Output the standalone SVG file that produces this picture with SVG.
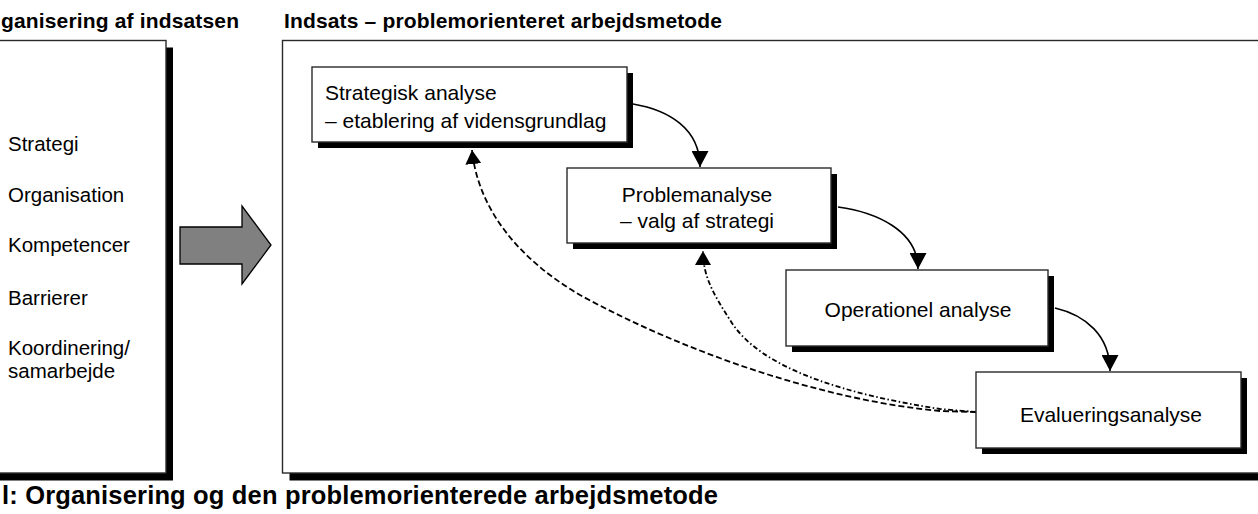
<svg xmlns="http://www.w3.org/2000/svg" width="1258" height="514" viewBox="0 0 1258 514">
<style>
.bg{fill:#ffffff}
.sh{fill:#000000}
.frame{fill:#ffffff;stroke:#2a2a2a;stroke-width:1.4}
.t{font-family:"Liberation Sans",Arial,sans-serif;font-size:21px;fill:#000}
.lab{font-family:"Liberation Sans",Arial,sans-serif;font-size:20.5px;fill:#000}
.title{font-family:"Liberation Sans",Arial,sans-serif;font-size:21px;font-weight:bold;fill:#000}
.cap{font-family:"Liberation Sans",Arial,sans-serif;font-size:25.5px;font-weight:bold;fill:#000}
.mid{text-anchor:middle}
.flow{fill:none;stroke:#000;stroke-width:1.6}
.fb1{fill:none;stroke:#000;stroke-width:1.8;stroke-dasharray:6 3}
.fb2{fill:none;stroke:#000;stroke-width:1.8;stroke-dasharray:5 2.5 1.5 2.5}
</style>
<defs>
<marker id="ah" markerUnits="userSpaceOnUse" viewBox="0 0 16 17" refX="16" refY="8.5" markerWidth="16" markerHeight="17" orient="auto">
<path d="M0,0 L16,8.5 L0,17 Z" fill="#000"/>
</marker>
<marker id="ahd" markerUnits="userSpaceOnUse" viewBox="0 0 14 16" refX="14" refY="8" markerWidth="14" markerHeight="16" orient="auto">
<path d="M0,0 L14,8 L0,16 Z" fill="#000"/>
</marker>
</defs>
<rect class="bg" x="0" y="0" width="1258" height="514"/>

<g id="title-left">
<text class="title" x="1" y="28" textLength="238" lengthAdjust="spacing">ganisering af indsatsen</text>
</g>
<g id="title-right">
<text class="title" x="284" y="28" textLength="438" lengthAdjust="spacing">Indsats – problemorienteret arbejdsmetode</text>
</g>

<g id="panel-left">
<rect class="sh" x="-3" y="47.5" width="176" height="433"/>
<rect class="frame" x="-10" y="40.5" width="176" height="432.5"/>
<text class="lab" x="8" y="151">Strategi</text>
<text class="lab" x="8" y="202">Organisation</text>
<text class="lab" x="8" y="252">Kompetencer</text>
<text class="lab" x="8" y="305">Barrierer</text>
<text class="lab" x="8" y="355">Koordinering/</text>
<text class="lab" x="8" y="378">samarbejde</text>
</g>

<g id="big-arrow">
<path d="M180,227 L242,227 L242,206 L271,245 L242,284 L242,264 L180,264 Z" fill="#808080" stroke="#000" stroke-width="1.3"/>
</g>

<g id="panel-right">
<rect class="sh" x="289.5" y="47.5" width="1000" height="433"/>
<rect class="frame" x="282.5" y="40.5" width="1000" height="432.5"/>
</g>

<g id="connectors">
<path class="flow" d="M633,104 C668,110 700,128 700,167" marker-end="url(#ah)"/>
<path class="flow" d="M838,207 C875,212 918,230 918,269" marker-end="url(#ah)"/>
<path class="flow" d="M1055,308 C1085,315 1110,335 1110,371" marker-end="url(#ah)"/>
<path class="fb1" d="M976,412 L940,411 C820,400 680,350 580,295 C520,260 478,210 472,150" marker-end="url(#ahd)"/>
<path class="fb2" d="M976,412 L940,409 C850,395 760,370 730,320 C712,292 703,275 703,251" marker-end="url(#ahd)"/>
</g>

<g id="node-strategisk">
<rect class="sh" x="318" y="73" width="315" height="75"/>
<rect class="frame" x="312" y="67" width="315" height="75"/>
<text class="t" x="325" y="100">Strategisk analyse</text>
<text class="t" x="325" y="128">– etablering af vidensgrundlag</text>
</g>

<g id="node-problem">
<rect class="sh" x="573" y="174" width="264" height="75"/>
<rect class="frame" x="567" y="168" width="264" height="75"/>
<text class="t mid" x="697" y="202">Problemanalyse</text>
<text class="t mid" x="697" y="228">– valg af strategi</text>
</g>

<g id="node-operationel">
<rect class="sh" x="792" y="276" width="262" height="76"/>
<rect class="frame" x="786" y="270" width="262" height="76"/>
<text class="t mid" x="918" y="317">Operationel analyse</text>
</g>

<g id="node-evaluering">
<rect class="sh" x="982" y="378" width="265" height="76"/>
<rect class="frame" x="976" y="372" width="265" height="76"/>
<text class="t mid" x="1111" y="422">Evalueringsanalyse</text>
</g>

<g id="caption">
<text class="cap" x="2" y="504" textLength="716" lengthAdjust="spacing">l: Organisering og den problemorienterede arbejdsmetode</text>
</g>
</svg>
